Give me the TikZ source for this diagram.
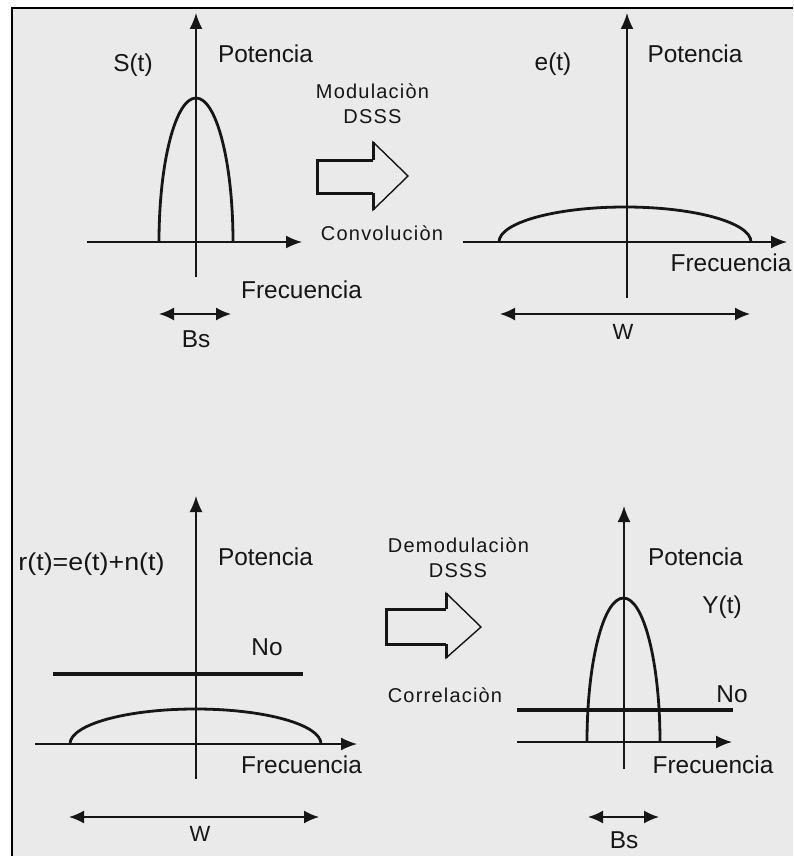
\documentclass[tikz,border=0pt]{standalone}
\usepackage{fontspec}
\setmainfont{Liberation Sans}
\usetikzlibrary{arrows.meta}
\definecolor{bgc}{HTML}{EAEAEA}
\definecolor{ink}{HTML}{161616}
\begin{document}
\begin{tikzpicture}[x=1pt,y=-1pt,
  axisline/.style={line width=1.6pt, draw=ink, -{Latex[length=16pt,width=13pt]}},
  curveline/.style={line width=2.8pt, draw=ink},
  noiseline/.style={line width=3.4pt, draw=ink},
  spanline/.style={line width=1.8pt, draw=ink, {Latex[length=15pt,width=13pt]}-{Latex[length=15pt,width=13pt]}},
  lbl/.style={font=\fontsize{24.4}{28}\selectfont, text=ink, inner sep=0pt, anchor=base},
  wlbl/.style={font=\fontsize{22}{26}\selectfont, text=ink, inner sep=0pt, anchor=base},
  small/.style={font=\fontsize{20}{24}\selectfont\addfontfeature{LetterSpace=6}, text=ink, inner sep=0pt, anchor=base},
  blockthin/.style={line width=1.4pt, draw=ink, line join=miter},
  blockthick/.style={line width=3pt, draw=ink},
]
\useasboundingbox (0,0) rectangle (793,856);
\fill[white] (0,0) rectangle (793,856);
\fill[bgc] (12,8) rectangle (793,856);
\draw[line width=2.6pt, black] (12,856) -- (12,8) -- (793,8);

% ---------- Panel 1 ----------
\coordinate (a1b) at (196,277); \coordinate (a1t) at (196,13);
\coordinate (h1l) at (87,242);  \coordinate (h1r) at (302,242);
\coordinate (c1s) at (159,242);
\coordinate (b1l) at (159,314); \coordinate (b1r) at (231,314);
\draw[axisline] (a1b) -- (a1t);
\draw[axisline] (h1l) -- (h1r);
\draw[curveline] (c1s) arc[start angle=180, end angle=360, x radius=37, y radius=144];
\draw[spanline] (b1l) -- (b1r);
\node[lbl] (s1) at (133,72) {S(t)};
\node[lbl] (pot1) at (265.5,63) {Potencia};
\node[lbl] (fr1) at (301.5,298) {Frecuencia};
\node[lbl] (bs1) at (196,347) {Bs};

% ---------- Block arrow 1 ----------
\coordinate (k1a) at (317,160); \coordinate (k1b) at (373,160);
\coordinate (k1c) at (373,142); \coordinate (k1d) at (408,176);
\coordinate (k1e) at (373,210); \coordinate (k1f) at (373,193);
\coordinate (k1g) at (317,193);
\draw[blockthin] (k1b) -- (k1c) -- (k1d) -- (k1e) -- (k1f);
\draw[blockthick] (k1b) -- (k1a) -- (k1g) -- (k1f);
\draw[blockthick] (k1c) -- (k1b);
\draw[blockthick] (k1e) -- (k1f);
\node[small] (mod) at (372.5,99) {Modulaciòn};
\node[small] (dsss1) at (372.5,124) {DSSS};
\node[small] (conv) at (382,240) {Convoluciòn};

% ---------- Panel 2 ----------
\coordinate (a2b) at (627,298); \coordinate (a2t) at (627,13);
\coordinate (h2l) at (463,242); \coordinate (h2r) at (787,242);
\coordinate (c2s) at (499,242);
\coordinate (b2l) at (500,314); \coordinate (b2r) at (750,314);
\draw[axisline] (a2b) -- (a2t);
\draw[axisline] (h2l) -- (h2r);
\draw[curveline] (c2s) arc[start angle=180, end angle=360, x radius=126, y radius=35];
\draw[spanline] (b2l) -- (b2r);
\node[lbl] (e2) at (553,71) {e(t)};
\node[lbl] (pot2) at (695,63) {Potencia};
\node[lbl] (fr2) at (731,271) {Frecuencia};
\node[wlbl] (w2) at (623,339) {W};

% ---------- Panel 3 ----------
\coordinate (a3b) at (196,779); \coordinate (a3t) at (196,496);
\coordinate (h3l) at (35,744);  \coordinate (h3r) at (357,744);
\coordinate (c3s) at (70,744);
\coordinate (n3l) at (53,674);  \coordinate (n3r) at (303,674);
\coordinate (b3l) at (69,817);  \coordinate (b3r) at (319,817);
\draw[axisline] (a3b) -- (a3t);
\draw[axisline] (h3l) -- (h3r);
\draw[curveline] (c3s) arc[start angle=180, end angle=360, x radius=125.5, y radius=35];
\draw[noiseline] (n3l) -- (n3r);
\draw[spanline] (b3l) -- (b3r);
\node[lbl, xscale=1.1] (r3) at (91.5,570) {r(t)=e(t)+n(t)};
\node[lbl] (pot3) at (265.5,565) {Potencia};
\node[lbl] (no3) at (267,655) {No};
\node[lbl] (fr3) at (301.5,773) {Frecuencia};
\node[wlbl] (w3) at (200,841) {W};

% ---------- Block arrow 2 ----------
\coordinate (k2a) at (386,609); \coordinate (k2b) at (446,609);
\coordinate (k2c) at (446,593); \coordinate (k2d) at (481,627);
\coordinate (k2e) at (446,658); \coordinate (k2f) at (446,644);
\coordinate (k2g) at (386,644);
\draw[blockthin] (k2b) -- (k2c) -- (k2d) -- (k2e) -- (k2f);
\draw[blockthick] (k2b) -- (k2a) -- (k2g) -- (k2f);
\draw[blockthick] (k2c) -- (k2b);
\draw[blockthick] (k2e) -- (k2f);
\node[small] (demod) at (458.5,552) {Demodulaciòn};
\node[small] (dsss2) at (458,577) {DSSS};
\node[small] (corr) at (445,702) {Correlaciòn};

% ---------- Panel 4 ----------
\coordinate (a4b) at (624,769); \coordinate (a4t) at (624,506);
\coordinate (h4l) at (517,742); \coordinate (h4r) at (732,742);
\coordinate (c4s) at (587,742);
\coordinate (n4l) at (517,710); \coordinate (n4r) at (733,710);
\coordinate (b4l) at (588,817); \coordinate (b4r) at (659,817);
\draw[axisline] (a4b) -- (a4t);
\draw[axisline] (h4l) -- (h4r);
\draw[curveline] (c4s) arc[start angle=180, end angle=360, x radius=36.5, y radius=144];
\draw[noiseline] (n4l) -- (n4r);
\draw[spanline] (b4l) -- (b4r);
\node[lbl] (pot4) at (695.5,565) {Potencia};
\node[lbl] (y4) at (722,613) {Y(t)};
\node[lbl] (no4) at (732,702) {No};
\node[lbl] (fr4) at (713,773) {Frecuencia};
\node[lbl] (bs4) at (624,848) {Bs};
\end{tikzpicture}
\end{document}
